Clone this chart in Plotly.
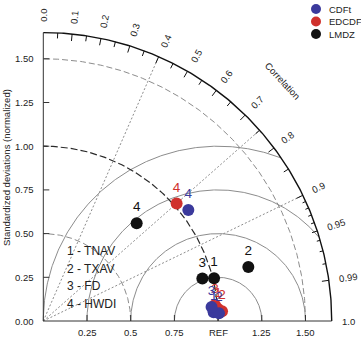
import numpy as np
import plotly.graph_objects as go

# ---------------- data ----------------
series_names = ["CDFt", "EDCDFt", "LMDZ"]
series_colors = ["#3b3a9c", "#d0312d", "#111111"]
case_labels = ["1", "2", "3", "4"]
case_names = ["TNAV", "TXAV", "FD", "HWDI"]

# normalized standard deviation and correlation, cases 1..4
cdft_sd = [0.976, 1.006, 0.966, 1.045]
cdft_corr = [0.9987, 0.9990, 0.9966, 0.794]
edcdft_sd = [1.002, 1.024, 0.986, 1.017]
edcdft_corr = [0.9976, 0.9985, 0.9957, 0.750]
lmdz_sd = [1.007, 1.213, 0.942, 0.773]
lmdz_corr = [0.970, 0.967, 0.966, 0.691]

x_tick_vals = [0.25, 0.5, 0.75, 1.0, 1.25, 1.5]
x_tick_labels = ["0.25", "0.5", "0.75", "REF", "1.25", "1.50"]
y_tick_vals = [0.0, 0.25, 0.5, 0.75, 1.0, 1.25, 1.5]
y_tick_labels = ["0.00", "0.25", "0.50", "0.75", "1.00", "1.25", "1.50"]
corr_label_vals = [0.0, 0.1, 0.2, 0.3, 0.4, 0.5, 0.6, 0.7, 0.8, 0.9, 0.95, 0.99, 1.0]
corr_label_text = ["0.0", "0.1", "0.2", "0.3", "0.4", "0.5", "0.6", "0.7", "0.8", "0.9", "0.95", "0.99", "1.0"]
corr_rays = [0.4, 0.75, 0.9]
sd_arcs = [0.5, 1.5]
ref_sd = 1.0
rms_arcs = [0.25, 0.5, 0.75, 1.0]
max_sd = 1.65

# ---------------- geometry helpers ----------------
W, H = 361, 337
OX, OY, S = 43.3, 321.0, 174.8  # pixel origin and px per unit


def px(xp, yp):
    return (xp - OX) / S, (OY - yp) / S


def polar(sd, corr):
    sd = np.asarray(sd, float)
    corr = np.asarray(corr, float)
    return sd * corr, sd * np.sqrt(np.clip(1 - corr ** 2, 0, None))


FONT = "Liberation Sans, Arial, sans-serif"
fig = go.Figure()


def line(x, y, color, width=1.0, dash="solid"):
    fig.add_trace(go.Scatter(x=x, y=y, mode="lines", hoverinfo="skip", showlegend=False,
                             line=dict(color=color, width=width, dash=dash)))


th = np.linspace(0, np.pi / 2, 200)
# RMS arcs centred on REF
for r in rms_arcs:
    t = np.linspace(0, np.pi, 400)
    xx = ref_sd + r * np.cos(t)
    yy = r * np.sin(t)
    keep = (xx ** 2 + yy ** 2 <= max_sd ** 2 + 1e-9) & (xx >= -1e-9)
    line(xx[keep], yy[keep], "#8c8c8c", 1.0)

# standard deviation arcs
for r in sd_arcs:
    line(r * np.cos(th), r * np.sin(th), "#8c8c8c", 1.0, "6px,3px")
line(ref_sd * np.cos(th), ref_sd * np.sin(th), "#2a2a2a", 1.2, "7px,3px")

# correlation rays
for c in corr_rays:
    line([0, max_sd * c], [0, max_sd * np.sqrt(1 - c ** 2)], "#8c8c8c", 1.0, "2px,2px")

# outer arc and axes
line(max_sd * np.cos(th), max_sd * np.sin(th), "#111111", 1.4)
line([0, max_sd], [0, 0], "#333333", 1.0)
line([0, 0], [0, max_sd], "#333333", 1.0)

# outer ticks
tx, ty = [], []
tick_c = [round(0.05 * k, 2) for k in range(1, 20)] + [0.91, 0.92, 0.93, 0.94, 0.96, 0.97, 0.98, 0.99]
for c in tick_c:
    if abs(c * 10 - round(c * 10)) < 1e-6 or c == 0.99:
        L = 7.0 / S
    elif c in (0.91, 0.92, 0.93, 0.94, 0.96, 0.97, 0.98):
        L = 3.5 / S
    else:
        L = 5.5 / S
    a = np.arccos(c)
    tx += [max_sd * np.cos(a), (max_sd - L) * np.cos(a), None]
    ty += [max_sd * np.sin(a), (max_sd - L) * np.sin(a), None]
line(tx, ty, "#111111", 1.0)

# axis ticks (inward)
L = 6.0 / S
ax_x, ax_y = [], []
for v in x_tick_vals:
    ax_x += [v, v, None]
    ax_y += [0, L, None]
for v in y_tick_vals[1:]:
    ax_x += [0, L, None]
    ax_y += [v, v, None]
line(ax_x, ax_y, "#333333", 1.0)

# ---------------- data markers ----------------
all_sd = [cdft_sd, edcdft_sd, lmdz_sd]
all_corr = [cdft_corr, edcdft_corr, lmdz_corr]
for idx in [2, 1, 0]:
    x, y = polar(all_sd[idx], all_corr[idx])
    fig.add_trace(go.Scatter(
        x=x, y=y, mode="markers+text", text=case_labels, textposition="top center",
        textfont=dict(family=FONT, size=13.5, color=series_colors[idx]),
        marker=dict(size=12, color=series_colors[idx]), hoverinfo="skip", showlegend=False))

# legend (top right)
leg_y = [9, 21.5, 34]
lx, _ = px(316, 0)
ly = [px(0, v)[1] for v in leg_y]
for i, name in enumerate(series_names):
    fig.add_trace(go.Scatter(x=[lx], y=[ly[i]], mode="markers", marker=dict(size=10, color=series_colors[i]),
                             hoverinfo="skip", showlegend=False))

ann = []
for i, name in enumerate(series_names):
    ann.append(dict(x=px(327, 0)[0], y=ly[i], text=name, xanchor="left", yanchor="middle",
                    font=dict(family=FONT, size=9.5, color="#222222"), showarrow=False))

# case legend
for i, (lab, nm) in enumerate(zip(case_labels, case_names)):
    yy = px(0, 250.7 + 17.8 * i)[1]
    ann.append(dict(x=px(65, 0)[0], y=yy, text=f"{lab} - {nm}", xanchor="left", yanchor="middle",
                    font=dict(family=FONT, size=12, color="#222222"), showarrow=False))

# axis tick labels
for v, t in zip(x_tick_vals, x_tick_labels):
    ann.append(dict(x=v, y=px(0, 332)[1], text=t, xanchor="center", yanchor="middle",
                    font=dict(family=FONT, size=9.5, color="#222222"), showarrow=False))
for v, t in zip(y_tick_vals, y_tick_labels):
    ann.append(dict(x=px(35.5, 0)[0], y=v, text=t, xanchor="right", yanchor="middle",
                    font=dict(family=FONT, size=9.5, color="#222222"), showarrow=False))

# correlation labels on the outer arc
for c, t in zip(corr_label_vals, corr_label_text):
    a = np.arccos(c)
    w = (13.2 if len(t) == 3 else 18.5) / S
    rc = 1.71 + w / 2
    ann.append(dict(x=rc * np.cos(a), y=rc * np.sin(a), text=t, textangle=-np.degrees(a),
                    xanchor="center", yanchor="middle",
                    font=dict(family=FONT, size=9.5, color="#222222"), showarrow=False))

cx, cy = px(282.5, 80)
ann.append(dict(x=cx, y=cy, text="Correlation", textangle=47, xanchor="center", yanchor="middle",
                font=dict(family=FONT, size=9.5, color="#222222"), showarrow=False))

tx_, ty_ = px(6.5, 167.5)
ann.append(dict(x=tx_, y=ty_, text="Standardized deviations (normalized)", textangle=-90,
                xanchor="center", yanchor="middle",
                font=dict(family=FONT, size=9.5, color="#222222"), showarrow=False))

fig.update_layout(
    width=W, height=H, margin=dict(l=0, r=0, t=0, b=0),
    paper_bgcolor="white", plot_bgcolor="white",
    xaxis=dict(range=[-OX / S, (W - OX) / S], visible=False, fixedrange=True),
    yaxis=dict(range=[-(H - OY) / S, OY / S], visible=False, fixedrange=True),
    annotations=ann, showlegend=False,
)
fig.write_html("out.html")
